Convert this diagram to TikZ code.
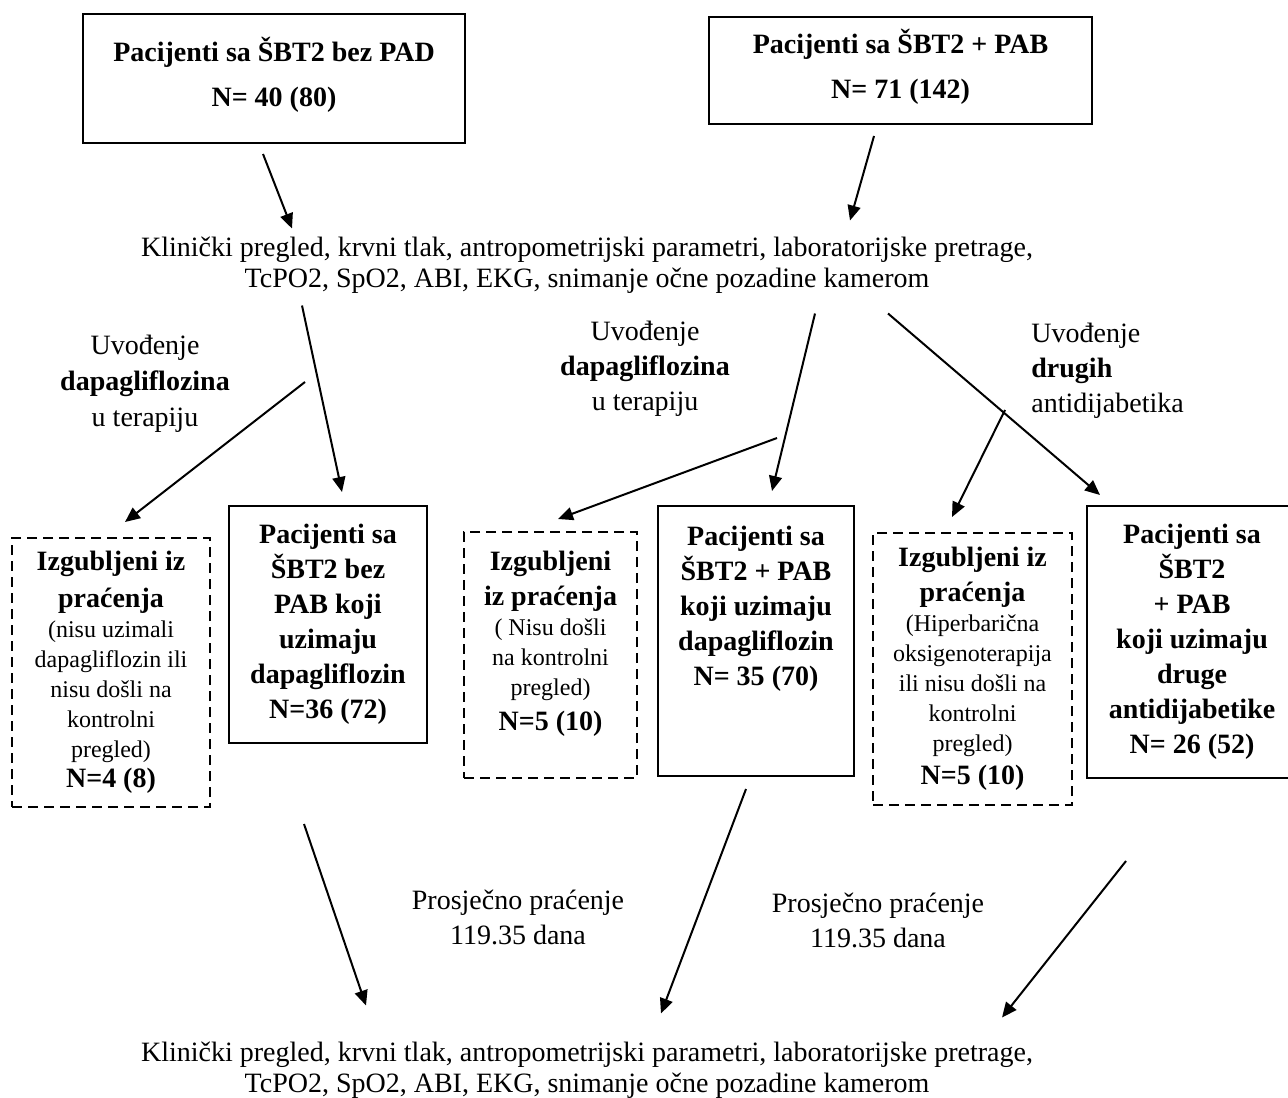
\documentclass[tikz,border=0pt]{standalone}
\usepackage{fontspec}
\setmainfont{Liberation Serif}
\usetikzlibrary{arrows.meta}
\newcommand{\bpart}[1]{{\bfseries\fontsize{14}{15}\selectfont #1}}

\begin{document}
\begin{tikzpicture}[x=0.5pt,y=-0.5pt,
    box/.style={draw,line width=1pt,align=center,inner sep=0pt,
        font=\bfseries\fontsize{14}{17.5}\selectfont},
    lostbox/.style={draw,line width=1pt,dash pattern=on 5pt off 3pt,align=center,
        inner sep=0pt,font=\fontsize{12}{15}\selectfont},
    note/.style={align=center,inner sep=0pt,font=\fontsize{14}{17.5}\selectfont},
    flow/.style={draw,line width=1pt,-{Triangle[length=7.5pt,width=6.5pt]}}]
\useasboundingbox (0,0) rectangle (1288,1097);

% starting groups
\node [box,minimum width=191pt,minimum height=64.5pt] (padNo) at (274,78.5)
    {Pacijenti sa ŠBT2 bez PAD\\[5pt] N= 40 (80)\\[-11pt] \mbox{}};
\node [box,minimum width=191.5pt,minimum height=53.5pt] (padYes) at (900.5,70.5)
    {Pacijenti sa ŠBT2 + PAB\\[5pt] N= 71 (142)\\[-11pt] \mbox{}};

\node [note,font=\fontsize{14}{15.5}\selectfont] (exam1) at (587,265.5)
    {Klinički pregled, krvni tlak, antropometrijski parametri, laboratorijske pretrage,\\
     TcPO2, SpO2, ABI, EKG, snimanje očne pozadine kamerom};

% branch labels
\node [note,font=\fontsize{14}{18}\selectfont] (introA) at (145,384)
    {Uvođenje\\ \textbf{dapagliflozina}\\ u terapiju};
\node [note] (introB) at (645,369)
    {Uvođenje\\ \textbf{dapagliflozina}\\ u terapiju};
\node [note,align=left,anchor=west] (introC) at (1031,371)
    {Uvođenje\\ \textbf{drugih}\\ antidijabetika};

% groups after the start of therapy
\node [lostbox,minimum width=99pt,minimum height=134.5pt] (lostA) at (111,672.5)
    {\bpart{Izgubljeni iz}\\[3.5pt] \bpart{praćenja}\\ (nisu uzimali\\ dapagliflozin ili\\
     nisu došli na\\ kontrolni\\ pregled)\\ \bpart{N=4 (8)}};
\node [box,minimum width=99pt,minimum height=118.5pt] (treatA) at (328,624.5)
    {Pacijenti sa\\ ŠBT2 bez\\ PAB koji\\ uzimaju\\ dapagliflozin\\ N=36 (72)};
\node [lostbox,minimum width=86.5pt,minimum height=123pt] (lostB) at (550.5,655)
    {\bpart{Izgubljeni}\\[2.5pt] \bpart{iz praćenja}\\ ( Nisu došli\\ na kontrolni\\
     pregled)\\[2.5pt] \bpart{N=5 (10)}\\[-1pt] \mbox{}};
\node [box,minimum width=98pt,minimum height=135pt] (treatB) at (756,641)
    {Pacijenti sa\\ ŠBT2 + PAB\\ koji uzimaju\\ dapagliflozin\\ N= 35 (70)\\ \mbox{}\\ \mbox{}};
\node [lostbox,minimum width=99.5pt,minimum height=136pt] (lostC) at (972.5,669)
    {\bpart{Izgubljeni iz}\\[2.5pt] \bpart{praćenja}\\ (Hiperbarična\\ oksigenoterapija\\
     ili nisu došli na\\ kontrolni\\ pregled)\\[1.5pt] \bpart{N=5 (10)}};
\node [box,minimum width=105pt,minimum height=136pt] (otherB) at (1192,642)
    {Pacijenti sa\\ ŠBT2\\ + PAB\\ koji uzimaju\\ druge\\ antidijabetike\\ N= 26 (52)};

% follow-up
\node [note] (followA) at (518,917) {Prosječno praćenje\\ 119.35 dana};
\node [note] (followB) at (878,920) {Prosječno praćenje\\ 119.35 dana};

\node [note,font=\fontsize{14}{15.5}\selectfont] (exam2) at (587,1070.5)
    {Klinički pregled, krvni tlak, antropometrijski parametri, laboratorijske pretrage,\\
     TcPO2, SpO2, ABI, EKG, snimanje očne pozadine kamerom};

\coordinate (splitA) at (305,382);
\coordinate (splitB) at (777,438);
\coordinate (splitC) at (1005,410);

\draw [flow] ([shift={(-11,10)}]padNo.south) -- ([shift={(-295,-37)}]exam1.center);
\draw [flow] ([shift={(-26.5,11)}]padYes.south) -- ([shift={(263,-45)}]exam1.center);

\draw [flow] ([shift={(-285,40)}]exam1.center) -- ([shift={(14,-13)}]treatA.north);
\draw [flow] (splitA) -- ([shift={(14,-15)}]lostA.north);
\draw [flow] ([shift={(228,48)}]exam1.center) -- ([shift={(16,-14)}]treatB.north);
\draw [flow] (splitB) -- ([shift={(7.5,-12)}]lostB.north);
\draw [flow] ([shift={(301,48)}]exam1.center) -- ([shift={(-92,-10)}]otherB.north);
\draw [flow] (splitC) -- ([shift={(-20.5,-15)}]lostC.north);

\draw [flow] ([shift={(-24,80)}]treatA.south) -- ([shift={(-221,-65)}]exam2.center);
\draw [flow] ([shift={(-10,12)}]treatB.south) -- ([shift={(74,-57)}]exam2.center);
\draw [flow] ([shift={(-66,82)}]otherB.south) -- ([shift={(415,-53)}]exam2.center);
\end{tikzpicture}
\end{document}
